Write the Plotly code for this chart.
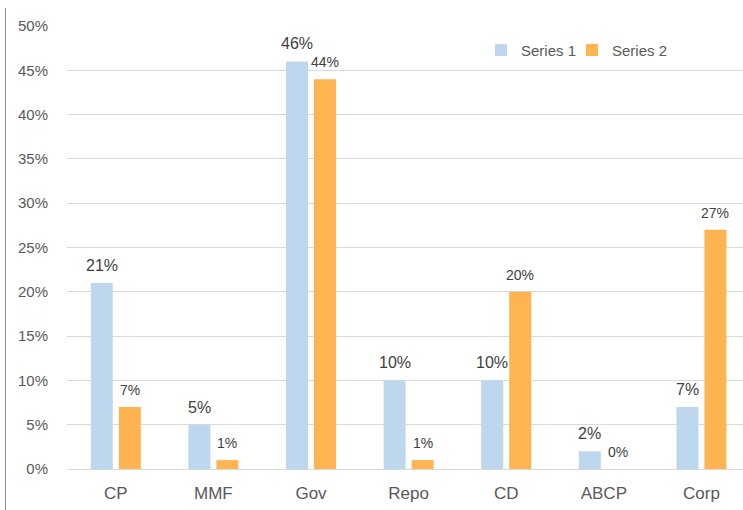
import plotly.graph_objects as go

categories = ["CP", "MMF", "Gov", "Repo", "CD", "ABCP", "Corp"]
series1 = [21, 5, 46, 10, 10, 2, 7]
series2 = [7, 1, 44, 1, 20, 0, 27]
series_names = ["Series 1", "Series 2"]
y_ticks = [0, 5, 10, 15, 20, 25, 30, 35, 40, 45, 50]
y_tick_labels = [f"{t}%" for t in y_ticks]

C1 = "#BDD7EE"
C2 = "#FFB452"
FONT = "Liberation Sans"

fig = go.Figure()
fig.add_trace(go.Bar(x=categories, y=series1, name=series_names[0], legend="legend",
                     marker=dict(color=C1, line=dict(width=0))))
fig.add_trace(go.Bar(x=categories, y=series2, name=series_names[1], legend="legend2",
                     marker=dict(color=C2, line=dict(width=0))))

for vals, shift, size in [(series1, -14, 16), (series2, 14, 14)]:
    for c, v in zip(categories, vals):
        fig.add_annotation(x=c, y=v, text=f"{v}%", showarrow=False,
                           xshift=shift, yshift=7, yanchor="bottom",
                           font=dict(family=FONT, size=size, color="#404040"))

fig.add_shape(type="line", xref="paper", yref="paper",
              x0=-61.5 / 676, x1=-61.5 / 676, y0=-41 / 443, y1=(443 + 18) / 443,
              line=dict(color="#8C8C8C", width=1))

legend_common = dict(orientation="h", y=0.945, xanchor="left", yanchor="middle",
                     font=dict(size=15, color="#595959"), itemwidth=30,
                     bgcolor="rgba(0,0,0,0)")

fig.update_layout(
    width=743, height=510,
    margin=dict(l=67, r=0, t=26, b=41),
    plot_bgcolor="white", paper_bgcolor="white",
    barmode="group", bargap=0.426, bargroupgap=0.214,
    font=dict(family=FONT, color="#595959"),
    showlegend=True,
    legend=dict(x=0.6124, **legend_common),
    legend2=dict(x=0.747, **legend_common),
    xaxis=dict(range=[-0.5, 6.426], showgrid=False, showline=False, ticks="",
               ticklabelstandoff=12,
               tickfont=dict(size=17, color="#595959"), fixedrange=True),
    yaxis=dict(range=[0, 50], tickmode="array", tickvals=y_ticks, ticktext=y_tick_labels,
               gridcolor="#D9D9D9", gridwidth=1, zeroline=True,
               zerolinecolor="#D9D9D9", zerolinewidth=1, showline=False,
               ticks="", ticklabelstandoff=18,
               tickfont=dict(size=15, color="#595959"), fixedrange=True),
)

fig.write_html("out.html", config={"displayModeBar": False},
               post_script="document.body.style.margin='0px';")
